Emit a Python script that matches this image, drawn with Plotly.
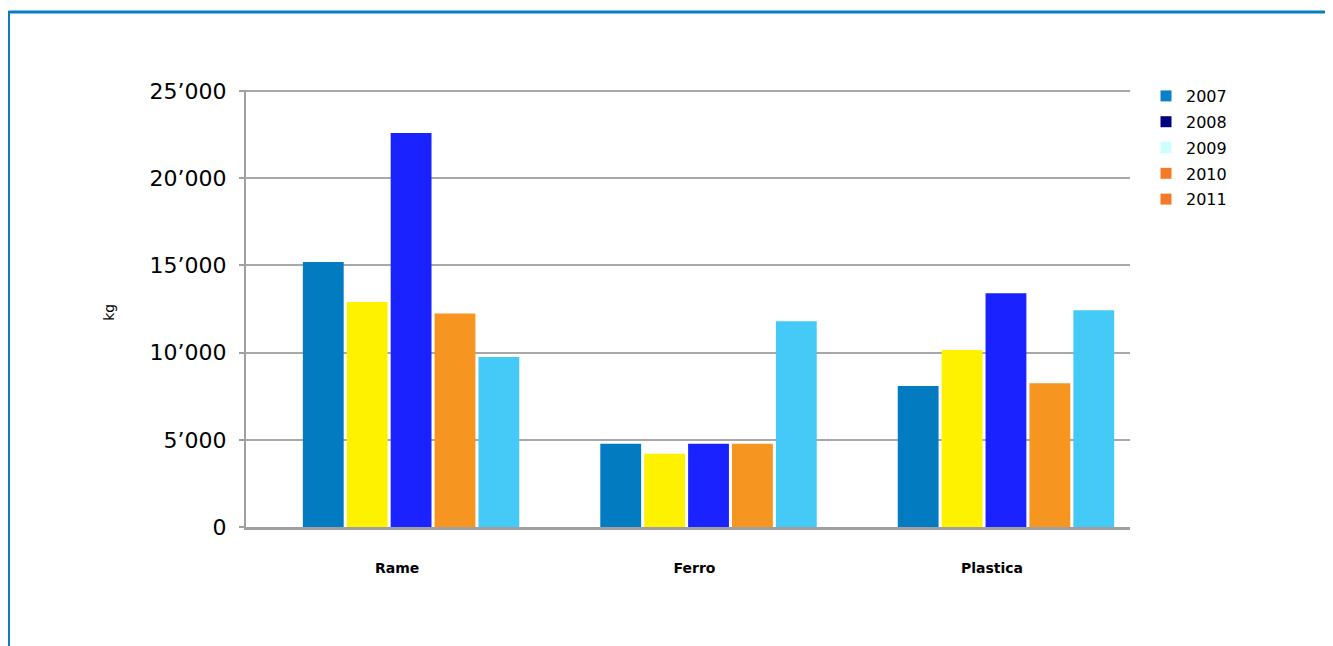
import plotly.graph_objects as go

categories = ["Rame", "Ferro", "Plastica"]
years = ["2007", "2008", "2009", "2010", "2011"]
values_2007 = [15200, 4770, 8080]
values_2008 = [12900, 4200, 10150]
values_2009 = [22600, 4770, 13400]
values_2010 = [12250, 4770, 8250]
values_2011 = [9750, 11800, 12430]
series = [values_2007, values_2008, values_2009, values_2010, values_2011]
bar_colors = ["#027bc1", "#fff200", "#1a22ff", "#f6951f", "#45c9f6"]
legend_colors = ["#0a80c6", "#000080", "#ccffff", "#f47a26", "#f47a26"]
y_tickvals = [0, 5000, 10000, 15000, 20000, 25000]
y_ticktext = ["0", "5\u2019000", "10\u2019000", "15\u2019000", "20\u2019000", "25\u2019000"]

OFF = 8  # page body margin
W, H = 1325, 638
# target screen geometry of plot area
SX0, SX1, SY0, SY1 = 246, 1130, 90, 527.5
L = SX0 - OFF
R = W - (SX1 - OFF)
T = SY0 - OFF
B = H - (SY1 - OFF)
pw, ph = SX1 - SX0, SY1 - SY0


def px_x(px):
    return (px - SX0) / pw


def px_y(py):
    return (SY1 - py) / ph


fig = go.Figure()
for yr, vals, col in zip(years, series, bar_colors):
    fig.add_trace(go.Bar(x=categories, y=vals, name=yr, marker=dict(color=col, line=dict(width=0)),
                         showlegend=False))
for yr, col in zip(years, legend_colors):
    fig.add_trace(go.Scatter(x=[None], y=[None], name=yr, mode="markers", legendgroup=yr,
                             marker=dict(color=col, symbol="square", size=11), showlegend=True))

border = dict(color="#0a7dc2", width=3)
fig.add_shape(type="line", xref="paper", yref="paper", x0=px_x(8.5), x1=px_x(1345), y0=px_y(12), y1=px_y(12), line=border)
fig.add_shape(type="line", xref="paper", yref="paper", x0=px_x(8.5), x1=px_x(8.5), y0=px_y(11), y1=px_y(660), line=border)

fig.add_annotation(text="kg", xref="paper", yref="paper", x=px_x(109), y=px_y(313), textangle=-90,
                   xanchor="center", yanchor="middle",
                   showarrow=False, font=dict(family="DejaVu Sans", size=14, color="#000"))

fig.update_layout(
    width=W, height=H,
    margin=dict(l=L, r=R, t=T, b=B),
    paper_bgcolor="white", plot_bgcolor="white",
    barmode="group", bargap=0.262, bargroupgap=0.07,
    font=dict(family="DejaVu Sans", color="#000"),
    legend=dict(x=px_x(1146), y=px_y(79), xanchor="left", yanchor="top",
                font=dict(family="DejaVu Sans", size=16, color="#000"),
                tracegroupgap=2, bgcolor="rgba(0,0,0,0)"),
    showlegend=True,
)
fig.update_xaxes(range=[-0.555, 2.417], showline=True, linecolor="#a0a0a0", linewidth=3,
                 showgrid=False, ticks="", tickfont=dict(family="DejaVu Sans", size=14, color="#000", weight="bold"),
                 ticklabelshift=-14, ticklabelstandoff=26)
fig.update_yaxes(range=[0, 25060], tickvals=y_tickvals, ticktext=y_ticktext, showline=True,
                 linecolor="#a0a0a0", linewidth=2, showgrid=True, gridcolor="#a8a8a8", gridwidth=1.5,
                 ticks="outside", ticklen=5, tickcolor="#a0a0a0", tickwidth=1.5, ticklabelstandoff=8,
                 tickfont=dict(family="DejaVu Sans", size=22, color="#000"), zeroline=False)

fig.write_html("out.html")
